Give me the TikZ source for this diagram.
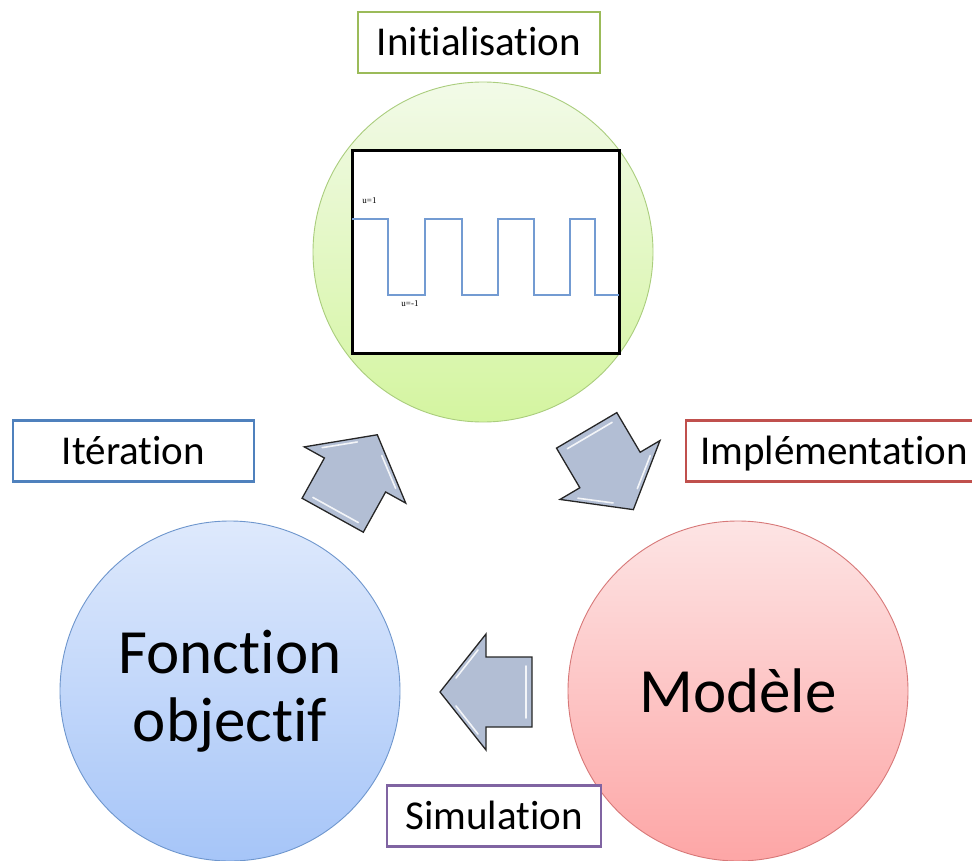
\documentclass[tikz,border=0pt]{standalone}
\usepackage{fontspec}
\setmainfont{Carlito}[Ligatures={NoCommon,NoRequired,NoContextual}]
\newfontfamily\plotfont{Liberation Serif}
\definecolor{initgreen}{RGB}{155, 187, 89}
\definecolor{iterblue}{RGB}{79, 129, 189}
\definecolor{implred}{RGB}{192, 80, 77}
\definecolor{simpurple}{RGB}{128, 100, 162}
\definecolor{greentop}{RGB}{242, 250, 232}
\definecolor{greenbot}{RGB}{212, 245, 160}
\definecolor{greenrim}{RGB}{170, 205, 125}
\definecolor{bluetop}{RGB}{222, 233, 252}
\definecolor{bluebot}{RGB}{166, 197, 248}
\definecolor{bluerim}{RGB}{110, 150, 205}
\definecolor{redtop}{RGB}{253, 228, 228}
\definecolor{redbot}{RGB}{253, 166, 166}
\definecolor{redrim}{RGB}{215, 120, 120}
\definecolor{arrowfill}{RGB}{178, 190, 212}
\definecolor{wavecol}{RGB}{115, 155, 210}
\usepackage{tikz}
\usetikzlibrary{positioning}

\begin{document}
\begin{tikzpicture}[
  x=1pt, y=-1pt,
  bubble/.style={circle, minimum size=340pt, inner sep=0pt, align=center, line width=0.9pt, font=\fontsize{63}{68}\selectfont},
  tagbox/.style={draw, line width=2.6pt, fill=white, minimum height=61pt, inner sep=0pt, font=\fontsize{41}{48}\selectfont, text height=26.4pt, text depth=0pt},
  flow/.style={draw=black!85, line width=1.3pt, fill=arrowfill, line join=miter},
  gloss/.style={white, line width=1.6pt, line cap=round, opacity=0.85},
  blockarrow/.pic={
    \draw[flow] (-46,-35) -- (0,-35) -- (0,-58) -- (46,0) -- (0,58) -- (0,35) -- (-46,35) -- cycle;
    \draw[gloss] (-40,-26) -- (-40,26);
    \draw[gloss] (8,-42) -- (30,-14);
    \draw[gloss] (8,42) -- (30,14);
  }
]
  \useasboundingbox (0,0) rectangle (972,861);

  % the three stages
  \node[bubble, draw=greenrim, top color=greentop, bottom color=greenbot] (init) at (483,252) {};
  \node[bubble, draw=bluerim, top color=bluetop, bottom color=bluebot] (fobj) at (230,691) {Fonction\\objectif};
  \node[bubble, draw=redrim, top color=redtop, bottom color=redbot] (model) at (738,691) {Modèle};

  % initial command u(t)
  \node[draw, line width=3pt, fill=white, minimum width=267pt, minimum height=202pt, inner sep=0pt] (plot) at (485.5,252) {};
  \draw[wavecol, line width=1.3pt] (352,219) -- (388,219) -- (388,295) -- (425,295) -- (425,219) -- (462,219)
    -- (462,295) -- (498,295) -- (498,219) -- (534,219) -- (534,295) -- (570,295) -- (570,219) -- (595,219)
    -- (595,295) -- (619,295);
  \node[font=\plotfont\fontsize{9}{10}\selectfont, inner sep=0pt] (uhigh) at (369.5,201) {u=1};
  \node[font=\plotfont\fontsize{9}{10}\selectfont, inner sep=0pt] (ulow) at (410,304) {u=-1};

  % block arrows between stages
  \pic[rotate=-59.5] at (610,470) {blockarrow};
  \pic[rotate=180] at (486,692) {blockarrow};
  \pic[rotate=61] at (355,475) {blockarrow};

  % stage labels
  \node[tagbox, draw=initgreen, minimum width=242pt] (tinit) at (479,42.5) {Initialisation};
  \node[tagbox, draw=iterblue, minimum width=241pt] (titer) at (133.5,451) {Itération};
  \node[tagbox, draw=implred, minimum width=296pt] (timpl) at (834,451) {Implémentation};
  \node[tagbox, draw=simpurple, minimum width=214pt] (tsim) at (494,816) {Simulation};
\end{tikzpicture}
\end{document}
